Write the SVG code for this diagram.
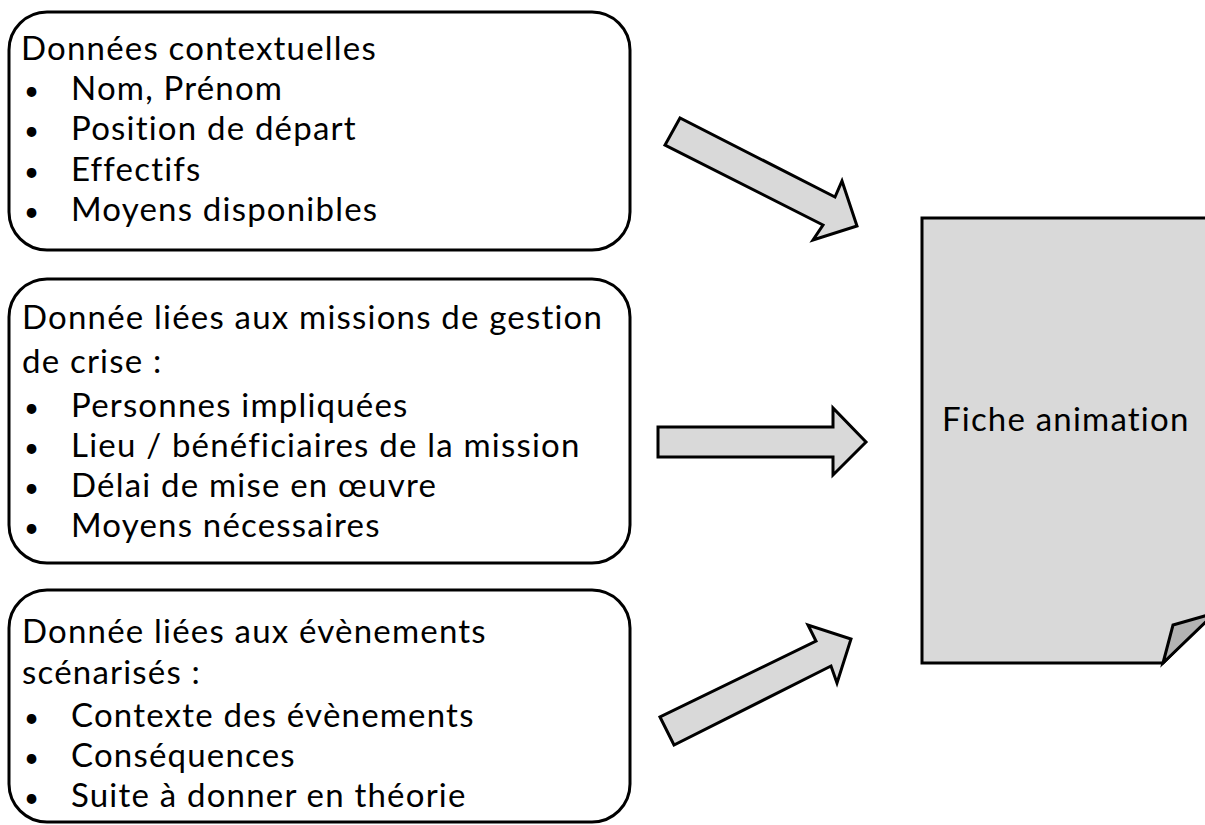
<svg xmlns="http://www.w3.org/2000/svg" width="1205" height="825" viewBox="0 0 1205 825">
<style>
.box{fill:#fff;stroke:#000;stroke-width:3}
.arr{fill:#d9d9d9;stroke:#000;stroke-width:3;stroke-linejoin:miter}
.t{font-family:Lato,"Open Sans",sans-serif;font-size:33px;letter-spacing:1.2px;fill:#000}
.b{font-size:26px}
</style>
<rect width="1205" height="825" fill="#fff"/>
<g id="box1">
<rect class="box" x="9" y="12" width="621" height="238" rx="38"/>
<text class="t" x="21" y="60">Données contextuelles</text>
<text class="t" y="100"><tspan class="b" x="24">•</tspan><tspan x="71">Nom, Prénom</tspan></text>
<text class="t" y="140"><tspan class="b" x="24">•</tspan><tspan x="71">Position de départ</tspan></text>
<text class="t" y="181"><tspan class="b" x="24">•</tspan><tspan x="71">Effectifs</tspan></text>
<text class="t" y="221"><tspan class="b" x="24">•</tspan><tspan x="71">Moyens disponibles</tspan></text>
</g>
<g id="box2">
<rect class="box" x="9" y="279" width="621" height="284" rx="38"/>
<text class="t" x="22" y="329">Donnée liées aux missions de gestion</text>
<text class="t" x="22" y="373">de crise :</text>
<text class="t" y="417"><tspan class="b" x="24">•</tspan><tspan x="71">Personnes impliquées</tspan></text>
<text class="t" y="457"><tspan class="b" x="24">•</tspan><tspan x="71">Lieu / bénéficiaires de la mission</tspan></text>
<text class="t" y="497"><tspan class="b" x="24">•</tspan><tspan x="71">Délai de mise en œuvre</tspan></text>
<text class="t" y="537"><tspan class="b" x="24">•</tspan><tspan x="71">Moyens nécessaires</tspan></text>
</g>
<g id="box3">
<rect class="box" x="9" y="590" width="621" height="232" rx="38"/>
<text class="t" x="22" y="643">Donnée liées aux évènements</text>
<text class="t" x="22" y="684">scénarisés :</text>
<text class="t" y="727"><tspan class="b" x="24">•</tspan><tspan x="71">Contexte des évènements</tspan></text>
<text class="t" y="767"><tspan class="b" x="24">•</tspan><tspan x="71">Conséquences</tspan></text>
<text class="t" y="807"><tspan class="b" x="24">•</tspan><tspan x="71">Suite à donner en théorie</tspan></text>
</g>
<g id="fiche">
<path d="M922,218 H1260 V566 L1163,663 H922 Z" fill="#d9d9d9" stroke="#000" stroke-width="3"/>
<path d="M1163,663 L1173,625 L1215,613 Z" fill="#b3b3b3" stroke="#000" stroke-width="3" stroke-linejoin="miter"/>
<text class="t" x="942" y="431">Fiche animation</text>
</g>
<g id="connectors">
<polygon class="arr" points="680,118 665,145 823,225 813,240 857,226 842,181 835,197"/>
<polygon class="arr" points="658,427 833,427 833,408 866,442 833,475 833,457 658,457"/>
<polygon class="arr" points="660,717 674,745 831,666 837,683 851,639 808,625 816,641"/>
</g>
</svg>
